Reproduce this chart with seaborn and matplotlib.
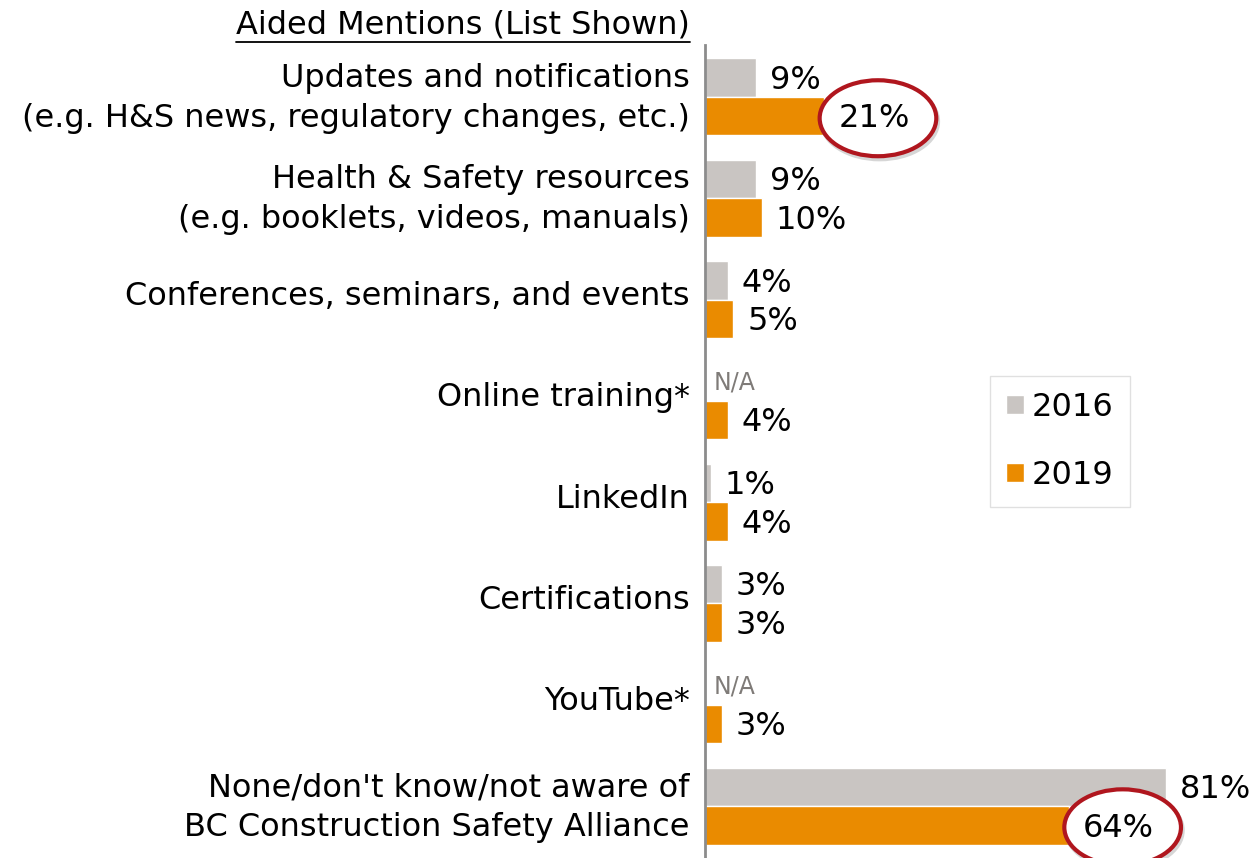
import numpy as np
import pandas as pd
import seaborn as sns
import matplotlib.pyplot as plt
import matplotlib.transforms as mtransforms
from matplotlib.patches import Ellipse
from matplotlib.lines import Line2D

# chart values
categories = [
    "Updates and notifications\n(e.g. H&S news, regulatory changes, etc.)",
    "Health & Safety resources\n(e.g. booklets, videos, manuals)",
    "Conferences, seminars, and events",
    "Online training*",
    "LinkedIn",
    "Certifications",
    "YouTube*",
    "None/don't know/not aware of\nBC Construction Safety Alliance",
]
years = ["2016", "2019"]
values_2016 = [9, 9, 4, np.nan, 1, 3, np.nan, 81]
values_2019 = [21, 10, 5, 4, 4, 3, 3, 64]
highlighted = [(0, "2019"), (7, "2019")]

gray = "#C9C5C2"
orange = "#EA8B00"
ring = "#B0161E"

df = pd.DataFrame({
    "Category": categories * 2,
    "Year": [years[0]] * len(categories) + [years[1]] * len(categories),
    "Value": values_2016 + values_2019,
})

sns.set_style("white")
plt.rcParams["font.family"] = ["DejaVu Sans"]
plt.rcParams["text.color"] = "black"
plt.rcParams["ytick.color"] = "black"

fig = plt.figure(figsize=(12.56, 8.58), dpi=100)
ax = fig.add_axes([705 / 1256, 0, 551 / 1256, 813 / 858])

sns.barplot(data=df, y="Category", x="Value", hue="Year", orient="h",
            palette=[gray, orange], width=0.76, saturation=1, ax=ax)

ax.set_xlim(0, 551 / 5.69)
ax.set_ylim(7.513, -0.513)
ax.set_xlabel("")
ax.set_ylabel("")
ax.set_xticks([])
ax.tick_params(axis="y", length=0, pad=11, labelsize=23, labelcolor="black")
# nudge category labels up a little
shift = mtransforms.ScaledTranslation(0, 0.065, fig.dpi_scale_trans)
for t in ax.get_yticklabels():
    t.set_linespacing(1.37)
    t.set_transform(t.get_transform() + shift)
for s in ["top", "right", "bottom"]:
    ax.spines[s].set_visible(False)
ax.spines["left"].set_color("#8C8C8C")
ax.spines["left"].set_linewidth(2)

# value labels
series = {"2016": values_2016, "2019": values_2019}
offsets = {"2016": -0.19, "2019": 0.19}
for yr in years:
    for i, v in enumerate(series[yr]):
        y = i + offsets[yr]
        if np.isnan(v):
            ax.annotate("N/A", (0, y), xytext=(6, -1), textcoords="offset points",
                        va="center", ha="left", fontsize=17, color="#7F7B78")
        else:
            ax.annotate(f"{v:.0f}%", (v, y), xytext=(10, -2), textcoords="offset points",
                        va="center", ha="left", fontsize=23, color="black", zorder=5)

# circled values
for i, yr in highlighted:
    v = series[yr][i]
    cx = v + 9.4
    cy = i + offsets[yr] + 0.02
    ax.add_patch(Ellipse((cx + 0.3, cy + 0.03), 20.5, 0.75, facecolor="none",
                         edgecolor="#BBBBBB", linewidth=3, alpha=0.6, zorder=3, clip_on=False))
    ax.add_patch(Ellipse((cx, cy), 20.5, 0.75, facecolor="white",
                         edgecolor=ring, linewidth=3, zorder=4, clip_on=False))

# legend
h, l = ax.get_legend_handles_labels()
ax.legend(h, l, loc="upper left", bbox_to_anchor=(990 / 1256, 1 - 376 / 858),
          bbox_transform=fig.transFigure, frameon=True, fancybox=False,
          edgecolor="#D9D9D9", fontsize=23, handlelength=0.56, handleheight=0.56,
          handletextpad=0.25, labelspacing=1.15, borderpad=0.5, borderaxespad=0)

# underlined header
title = fig.text(690 / 1256, 1 - 25 / 858, "Aided Mentions (List Shown)",
                 ha="right", va="center", fontsize=23)
fig.canvas.draw()
bb = title.get_window_extent()
uy = bb.y0 - 1
fig.add_artist(Line2D([bb.x0 / 1256, bb.x1 / 1256], [uy / 858, uy / 858],
                      color="black", linewidth=1.3, transform=fig.transFigure))

fig.savefig("out.png", dpi=100)
